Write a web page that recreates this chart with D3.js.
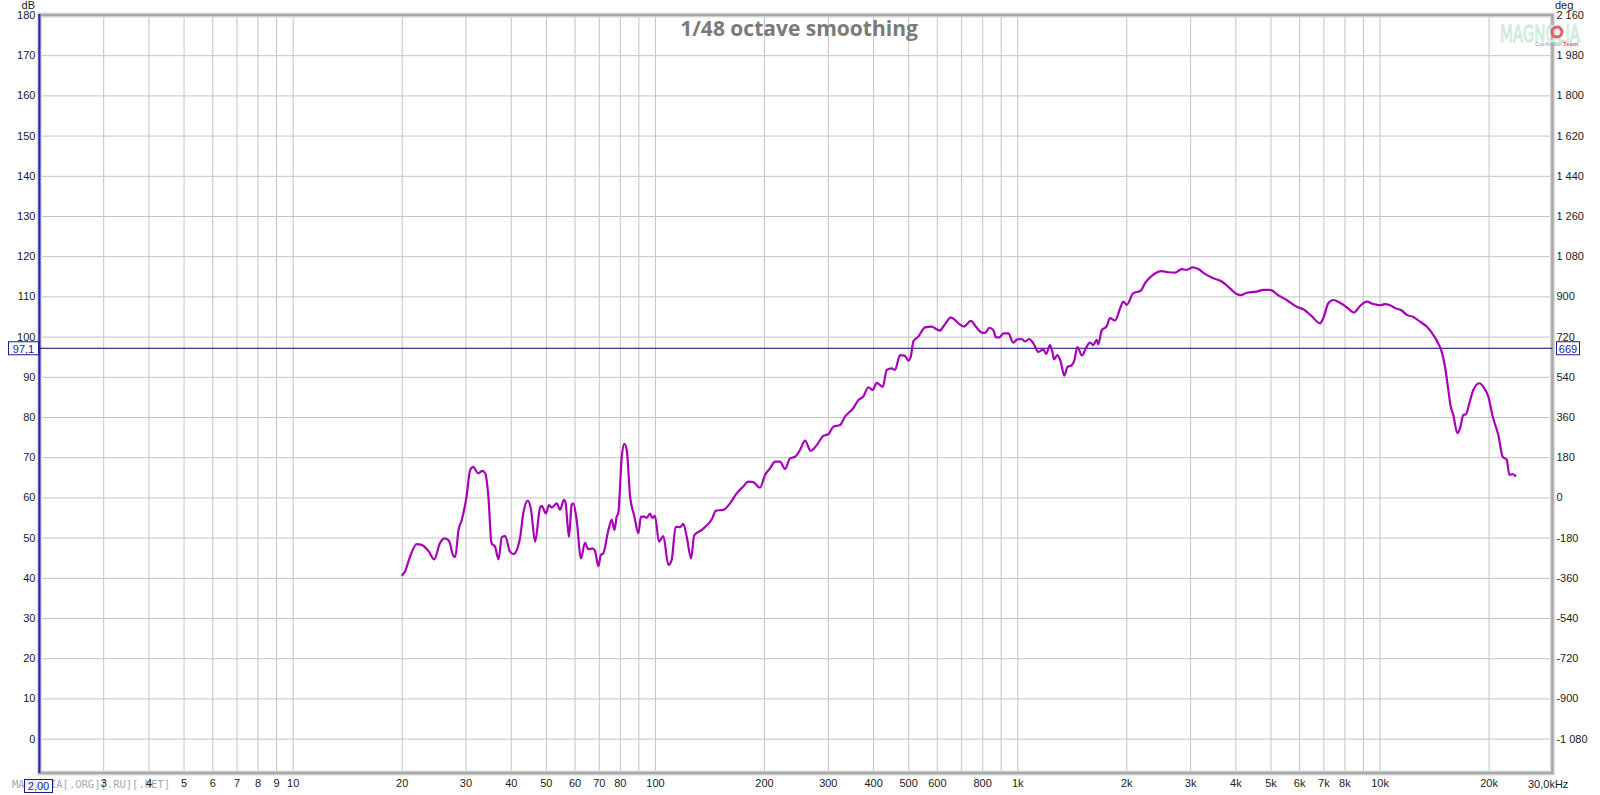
<!DOCTYPE html>
<html><head><meta charset="utf-8">
<script src="https://cdn.jsdelivr.net/npm/d3@7/dist/d3.min.js"></script>
<style>body{margin:0;background:#fff;overflow:hidden}svg{display:block}</style>
</head><body><svg id="c" width="1600" height="795"></svg>
<script>
// ---- data ----
const freqHz = [20.0,20.4,21.1,22.0,22.7,23.7,24.6,25.5,26.3,27.0,27.8,28.1,28.7,29.3,30.2,30.9,31.5,32.5,33.4,34.0,
34.7,35.4,36.2,37.0,37.8,38.6,39.8,40.7,42.4,43.3,44.6,45.5,46.7,48.2,48.7,50.0,51.0,51.9,53.6,54.7,
56.1,56.6,57.9,58.9,59.5,60.8,62.5,64.1,65.5,67.2,68.3,69.8,70.9,72.0,74.4,76.0,77.3,78.4,79.2,81.0,
82.3,83.6,85.4,87.7,90.0,91.5,93.5,94.9,96.9,98.3,100.0,102.6,105.5,108.9,111.2,114.1,117.3,119.7,122.4,125.8,
128.4,135,143.4,147.4,154.4,161.1,168.1,175.3,181.0,186.8,195.0,201.3,207.8,214.5,221.4,228.6,236.0,243.6,251.4,259.6,
269.1,279.6,291.6,301.0,310.7,324.3,334.7,352.8,364.2,376.0,388.1,399.1,409.4,425.3,436.3,450.4,459.9,474.8,490.1,500.5,
508.2,516.7,533.4,556.6,580.8,599.6,612.3,622.9,638.9,655.4,673.6,692.2,713.2,744.2,773.1,798.1,815.0,837.6,859.2,874.0,
892.5,915.5,945.1,975.6,1000,1029,1051,1080,1108,1144,1180,1201,1232,1253,1263,1290,1318,1349,1375,1414,
1437,1465,1510,1547,1588,1622,1657,1674,1711,1766,1803,1862,1922,1962,2005,2091,2192,2253,2351,2505,
2612,2726,2844,2936,3050,3161,3298,3477,3668,3866,4034,4138,4299,4580,4777,4984,5254,5543,5907,6161,
6498,6850,6995,7221,7454,7779,8118,8503,8833,9217,9612,10029,10353,10688,11034,11514,11886,12395,12934,13497,
13933,14383,14848,15163,15484,15722,15985,16396,16680,17033,17328,17695,18150,18855,19340,19964,20530,21274,21878,22441,
22815,23313,23807];
const splDb = [40.5,41.5,45.3,48.4,48.2,46.7,44.6,48.6,49.8,49.2,45.4,45.2,51.9,54.4,60.2,66.8,67.6,66.0,66.6,66.0,
60.2,48.6,47.7,44.6,50.1,50.4,46.5,45.9,49.8,56.0,59.2,56.9,49.0,57.5,57.9,56.0,58.1,57.5,58.5,56.9,
59.4,58.9,50.2,58.1,58.5,54.4,44.8,48.7,47.1,47.3,46.7,42.9,45.7,46.1,51.9,54.5,51.9,55.2,56.0,70.1,
73.3,71.8,60.2,55.4,51.1,55.2,55.2,54.9,56.0,54.9,55.4,49.0,50.4,43.2,44.4,52.7,52.6,53.4,50.2,44.8,
50.6,52.0,54.5,56.7,56.9,58.5,61.0,62.7,63.9,63.8,62.4,65.6,67.2,68.9,68.9,67.1,69.7,70.1,71.8,74.1,
71.6,73.0,75.3,75.7,77.6,78.0,80.1,82.2,84.2,85.1,87.4,86.7,88.5,87.5,91.7,92.1,91.7,95.4,95.2,94.0,
95.0,98.8,100.0,102.3,102.5,101.8,101.5,102.3,103.7,104.8,104.1,103.1,102.5,103.9,102.2,101.0,100.9,102.2,101.6,99.8,
99.8,100.8,100.8,98.5,99.3,99.4,98.8,99.4,98.3,96.2,96.8,95.7,97.9,95.8,94.3,95.4,93.8,90.3,92.4,92.9,
94.0,97.4,95.3,97.1,98.5,97.9,99.2,98.1,101.6,102.6,104.6,104.0,107.0,108.7,107.9,110.8,111.4,113.3,115.1,116.3,
116.0,115.9,116.8,116.6,117.2,116.8,115.6,114.5,113.7,112.0,110.6,110.3,110.9,111.2,111.6,111.6,110.3,109.1,107.4,106.8,
105.1,103.3,104.6,108.3,109.1,108.4,107.3,106.0,107.6,108.7,108.1,107.8,108.1,107.8,107.1,106.5,105.4,104.9,103.7,102.5,
101.0,99.0,96.2,92.5,86.7,82.6,80.5,76.0,77.2,80.5,80.7,83.4,86.7,88.4,87.5,85.1,80.1,75.5,70.1,69.4,
65.6,65.8,65.2];
const dbTicks = [0,10,20,30,40,50,60,70,80,90,100,110,120,130,140,150,160,170,180];
const degTickLabels = ["-1 080","-900","-720","-540","-360","-180","0","180","360","540","720","900","1 080","1 260","1 440","1 620","1 800","1 980","2 160"];
const freqLabelValues = [3,4,5,6,7,8,9,10,20,30,40,50,60,70,80,100,200,300,400,500,600,800,1000,2000,3000,4000,5000,6000,7000,8000,10000,20000];
const freqLabels = ["3","4","5","6","7","8","9","10","20","30","40","50","60","70","80","100","200","300","400","500","600","800","1k","2k","3k","4k","5k","6k","7k","8k","10k","20k"];
const cursorDb = 97.1, cursorDbLabel = "97,1", cursorDegLabel = "669";
const titleText = "1/48 octave smoothing";

// ---- layout ----
const L = 39.4, R = 1552.4, T = 15, B = 773, Y0 = 738.6;
const svg = d3.select("#c");
const x = d3.scaleLog().domain([2, 30000]).range([L, R]);
const y = d3.scaleLinear().domain([0, 180]).range([Y0, T]);
const font = "'Liberation Sans', Arial, sans-serif";

// grid
const gGrid = svg.append("g");
gGrid.append("g").attr("transform", `translate(0,${B})`)
  .call(d3.axisBottom(x).tickValues(x.ticks().filter(v => v > 2 && v < 30000)).tickSize(-(B - T)).tickFormat(""))
  .call(g => g.select(".domain").remove())
  .call(g => g.selectAll("line").attr("stroke", "#c4c4c4").attr("stroke-width", 1));
gGrid.append("g").attr("transform", `translate(${L},0)`)
  .call(d3.axisLeft(y).tickValues(dbTicks.filter(v => v < 180)).tickSize(-(R - L)).tickFormat(""))
  .call(g => g.select(".domain").remove())
  .call(g => g.selectAll("line").attr("stroke", "#c4c4c4").attr("stroke-width", 1));

// frame
svg.append("rect").attr("x", L).attr("y", T).attr("width", R - L).attr("height", B - T)
  .attr("fill", "none").attr("stroke", "#dcdcdc").attr("stroke-width", 5);
svg.append("rect").attr("x", L).attr("y", T).attr("width", R - L).attr("height", B - T)
  .attr("fill", "none").attr("stroke", "#a8a8a8").attr("stroke-width", 2.5);
svg.append("line").attr("x1", L).attr("x2", L).attr("y1", T - 1).attr("y2", B)
  .attr("stroke", "#2323c8").attr("stroke-width", 2);

// logo (behind axis labels)
const logo = svg.append("g");
logo.append("text").attr("x", 1500).attr("y", 42).attr("textLength", 80).attr("lengthAdjust", "spacingAndGlyphs")
  .attr("font-family", "'DejaVu Sans', sans-serif").attr("font-size", 23)
  .attr("fill", "#e4f6ea").attr("stroke", "#bfe3cc").attr("stroke-width", 0.8).text("MAGNOLIA");
logo.append("circle").attr("cx", 1557).attr("cy", 32).attr("r", 5)
  .attr("fill", "none").attr("stroke", "#e0606e").attr("stroke-width", 3);
logo.append("text").attr("x", 1535).attr("y", 46).attr("font-family", font).attr("font-size", 6)
  .attr("font-weight", "bold").attr("fill", "#b0b0b8").text("CarAudio");
logo.append("text").attr("x", 1563).attr("y", 46).attr("font-family", font).attr("font-size", 6)
  .attr("font-weight", "bold").attr("fill", "#e0606e").text("Team");

// left axis labels
svg.append("g").attr("transform", `translate(${L},0)`)
  .call(d3.axisLeft(y).tickValues(dbTicks).tickSize(0).tickPadding(4))
  .call(g => g.select(".domain").remove())
  .call(g => g.selectAll("text").attr("font-family", font).attr("font-size", 11).attr("fill", "#1a1a1a"));
// right axis labels (deg)
svg.append("g").attr("transform", `translate(${R},0)`)
  .call(d3.axisRight(y).tickValues(dbTicks).tickSize(0).tickPadding(4).tickFormat((d, i) => degTickLabels[i]))
  .call(g => g.select(".domain").remove())
  .call(g => g.selectAll("text").attr("font-family", font).attr("font-size", 11).attr("fill", "#1a1a1a"));

svg.append("text").attr("x", 35).attr("y", 9).attr("text-anchor", "end")
  .attr("font-family", font).attr("font-size", 11).attr("fill", "#1a1a1a").text("dB");
svg.append("text").attr("x", 1555).attr("y", 9)
  .attr("font-family", font).attr("font-size", 11).attr("fill", "#1a1a1a").text("deg");

// watermark under x labels
svg.append("text").attr("x", 12).attr("y", 788)
  .attr("font-family", "'DejaVu Sans Mono', monospace").attr("font-size", 10.5).attr("fill", "#9eaab6")
  .text("MAGNOLIA[.ORG][.RU][.NET]");

// bottom axis labels
svg.append("g").attr("transform", `translate(0,${B})`)
  .call(d3.axisBottom(x).tickValues(freqLabelValues).tickSize(0).tickPadding(6).tickFormat((d, i) => freqLabels[i]))
  .call(g => g.select(".domain").remove())
  .call(g => g.selectAll("text").attr("font-family", font).attr("font-size", 11).attr("fill", "#1a1a1a"));
svg.append("text").attr("x", 1528).attr("y", 788)
  .attr("font-family", font).attr("font-size", 11).attr("fill", "#1a1a1a").text("30,0kHz");

// start frequency box
svg.append("rect").attr("x", 24.5).attr("y", 779.5).attr("width", 28).attr("height", 13)
  .attr("fill", "#fff").attr("fill-opacity", 0.6).attr("stroke", "#1a1a9a").attr("stroke-width", 1);
svg.append("text").attr("x", 38.5).attr("y", 790).attr("text-anchor", "middle")
  .attr("font-family", font).attr("font-size", 11).attr("fill", "#1a1a9a").text("2,00");

// cursor line
const cy = y(cursorDb);
svg.append("line").attr("x1", L).attr("x2", R).attr("y1", cy).attr("y2", cy)
  .attr("stroke", "#000080").attr("stroke-width", 1.2);
svg.append("rect").attr("x", 8.5).attr("y", cy - 6.5).attr("width", 30).attr("height", 13)
  .attr("fill", "#fff").attr("stroke", "#1a1a9a");
svg.append("text").attr("x", 23.5).attr("y", cy + 4.5).attr("text-anchor", "middle")
  .attr("font-family", font).attr("font-size", 11).attr("fill", "#1a1a9a").text(cursorDbLabel);
svg.append("rect").attr("x", 1556.5).attr("y", cy - 6.5).attr("width", 23).attr("height", 13)
  .attr("fill", "#fff").attr("stroke", "#1a1a9a");
svg.append("text").attr("x", 1568).attr("y", cy + 4.5).attr("text-anchor", "middle")
  .attr("font-family", font).attr("font-size", 11).attr("fill", "#1a1a9a").text(cursorDegLabel);

// curve
const pts = freqHz.map((f, i) => [f, splDb[i]]);
svg.append("path").datum(pts)
  .attr("d", d3.line().x(d => x(d[0])).y(d => y(d[1])).curve(d3.curveMonotoneX))
  .attr("fill", "none").attr("stroke", "#a800b8").attr("stroke-width", 2.2).attr("stroke-linejoin", "round");

// title
svg.append("text").attr("x", 799).attr("y", 36).attr("text-anchor", "middle")
  .attr("font-family", "'Open Sans', sans-serif").attr("font-weight", "bold").attr("font-size", 21)
  .attr("fill", "#7a7a7a").text(titleText);
</script></body></html>
